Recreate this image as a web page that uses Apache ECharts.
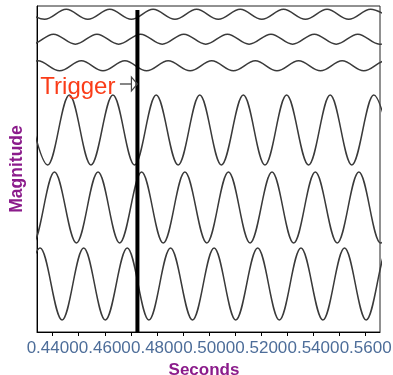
<!DOCTYPE html>
<html><head><meta charset="utf-8">
<script src="https://cdn.jsdelivr.net/npm/echarts@6/dist/echarts.min.js"></script>
<style>html,body{margin:0;padding:0;background:#fff}#c{width:393px;height:375px}</style>
</head><body><div id="c"></div>
<script>
// ---- data (extremum times and levels of each trace) ----
const tickValues = [0.44,0.45,0.46,0.47,0.48,0.49,0.50,0.51,0.52,0.53,0.54,0.55,0.56];
const labelValues = [0.44,0.46,0.48,0.50,0.52,0.54,0.56];

const wave1Times = [0.4285,0.4369,0.4452,0.4535,0.4619,0.4702,0.4785,0.4869,0.4952,0.5035,0.5119,0.5202,0.5285,0.5369,0.5452,0.5535,0.5619,0.5702];
const wave1Values = [32.27,31.27,32.27,31.27,32.27,31.27,32.27,31.27,32.27,31.27,32.27,31.27,32.27,31.27,32.27,31.27,32.27,31.27];

const wave2Times = [0.4237,0.4320,0.4403,0.4487,0.4570,0.4653,0.4737,0.4820,0.4903,0.4987,0.5070,0.5153,0.5237,0.5320,0.5403,0.5487,0.5570,0.5653,0.5737];
const wave2Values = [29.78,28.78,29.78,28.78,29.78,28.78,29.78,28.78,29.78,28.78,29.78,28.78,29.78,28.78,29.78,28.78,29.78,28.78,29.78];

const wave3Times = [0.4260,0.4343,0.4427,0.4510,0.4593,0.4677,0.4760,0.4843,0.4927,0.5010,0.5093,0.5177,0.5260,0.5343,0.5427,0.5510,0.5593,0.5677,0.5760];
const wave3Values = [26.12,27.12,26.12,27.12,26.12,27.12,26.12,27.12,26.12,27.12,26.12,27.12,26.12,27.12,26.12,27.12,26.12,27.12,26.12];

const wave4Times = [0.4297,0.4381,0.4464,0.4547,0.4631,0.4714,0.4797,0.4881,0.4964,0.5047,0.5131,0.5214,0.5297,0.5381,0.5464,0.5547,0.5631,0.5714];
const wave4Values = [23.7,16.7,23.7,16.7,23.7,16.7,23.7,16.7,23.7,16.7,23.7,16.7,23.7,16.7,23.7,16.7,23.7,16.7];

const wave5Times = [0.4241,0.4324,0.4407,0.4491,0.4574,0.4657,0.4741,0.4824,0.4907,0.4991,0.5074,0.5157,0.5241,0.5324,0.5407,0.5491,0.5574,0.5657,0.5741];
const wave5Values = [16.0,8.9,16.0,8.9,16.0,8.9,16.0,8.9,16.0,8.9,16.0,8.9,16.0,8.9,16.0,8.9,16.0,8.9,16.0];

const wave6Times = [0.4269,0.4352,0.4436,0.4519,0.4602,0.4686,0.4769,0.4852,0.4936,0.5019,0.5102,0.5186,0.5269,0.5352,0.5436,0.5519,0.5602,0.5686,0.5769];
const wave6Values = [1.2,8.4,1.2,8.4,1.2,8.4,1.2,8.4,1.2,8.4,1.2,8.4,1.2,8.4,1.2,8.4,1.2,8.4,1.2];

const triggerTime = 0.4725;
const triggerLevels = [0, 32.2];
const triggerLabel = 'Trigger';

// ---- layout / style ----
const FONT = "'Liberation Sans', Arial, Helvetica, sans-serif";
const PURPLE = '#8b1c8b';
const arrowLevel = 24.8;

const waves = [
  [wave1Times, wave1Values], [wave2Times, wave2Values], [wave3Times, wave3Values],
  [wave4Times, wave4Values], [wave5Times, wave5Values], [wave6Times, wave6Values]
];

const series = waves.map(function (w, i) {
  return {
    name: 'trace' + (i + 1),
    type: 'line',
    data: w[0].map(function (t, k) { return [t, w[1][k]]; }),
    showSymbol: false, symbol: 'none',
    smooth: 0.36,
    lineStyle: { color: '#3a3a3a', width: 1.5 },
    silent: true, clip: true
  };
});
series.push({
  name: 'trigger', type: 'line', symbol: 'none',
  data: triggerLevels.map(function (v) { return [triggerTime, v]; }),
  lineStyle: { color: '#000', width: 4 }, z: 5, clip: true
});

const chart = echarts.init(document.getElementById('c'), null, { renderer: 'canvas' });
chart.setOption({
  animation: false,
  backgroundColor: '#fff',
  grid: { left: 37, right: 13, top: 6, bottom: 43, containLabel: false, outerBoundsMode: 'none',
    show: true, borderColor: '#222', borderWidth: 1, backgroundColor: 'transparent' },
  xAxis: {
    type: 'value', min: 0.434, max: 0.5655,
    name: 'Seconds', nameLocation: 'middle', nameGap: 24,
    nameTextStyle: { color: PURPLE, fontWeight: 'bold', fontSize: 17, fontFamily: FONT, padding: [0, 9, 0, 0] },
    axisLine: { show: true, lineStyle: { color: '#000', width: 1 } },
    axisTick: { show: true, length: 4, customValues: tickValues, lineStyle: { color: '#000' } },
    axisLabel: { show: true, customValues: labelValues, hideOverlap: false, margin: 8,
      formatter: function (v) { return v.toFixed(4); },
      color: '#4d6d99', fontSize: 17, fontFamily: FONT },
    splitLine: { show: false }
  },
  yAxis: {
    type: 'value', min: 0, max: 32.6,
    name: 'Magnitude', nameLocation: 'middle', nameGap: 11,
    nameTextStyle: { color: PURPLE, fontWeight: 'bold', fontSize: 17.5, fontFamily: FONT },
    axisLine: { show: true, lineStyle: { color: '#000', width: 1 } },
    axisTick: { show: false }, axisLabel: { show: false }, splitLine: { show: false }
  },
  series: series
});

const tip = chart.convertToPixel({ gridIndex: 0 }, [triggerTime, arrowLevel]);
const tx = tip[0], ty = tip[1];
chart.setOption({
  graphic: [
    { type: 'text', x: tx - 22, y: ty + 3, z: 10,
      style: { text: triggerLabel, font: '24px ' + FONT, fill: '#fa3c18', align: 'right', verticalAlign: 'middle' } },
    { type: 'line', z: 10, shape: { x1: tx - 17.5, y1: ty, x2: tx - 6, y2: ty },
      style: { stroke: '#444', lineWidth: 1.3 } },
    { type: 'polygon', z: 10, shape: { points: [[tx - 6, ty - 7], [tx - 6, ty + 7], [tx, ty]] },
      style: { fill: 'none', stroke: '#444', lineWidth: 1.2 } }
  ]
});
</script></body></html>
